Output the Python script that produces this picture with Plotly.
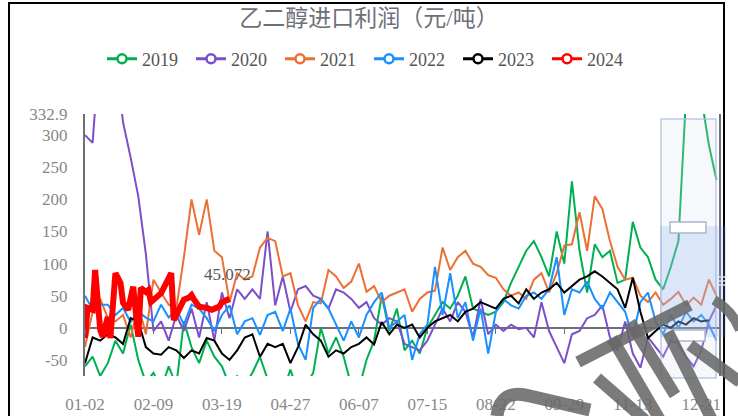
import plotly.graph_objects as go

# x axis: trading-day index (0..250), labels every 27 days
TICK_LABELS = ["01-02", "02-09", "03-19", "04-27", "06-07",
               "07-15", "08-22", "09-29", "11-13", "12-21"]
Y_TICKS = [-50, 0, 50, 100, 150, 200, 250, 300, 332.9]

# values sampled every 3 trading days
Y2019 = [-60, -45, -75, -55, -20, -40, 5, -50, -85, -70, -95, -60, -90, 10, -30,
         -55, -20, -45, -60, -90, -75, -90, -70, -45, -80, -95, -100, -65, -100, -90,
         -70, 0, -40, -15, -45, -90, -95, -50, -20, 50, -5, 30, -35, -20, -40,
         0, 20, 40, 30, 50, 80, 30, 25, 20, 25, 40, 70, 95, 120, 135,
         110, 80, 150, 100, 228, 120, 55, 130, 110, 120, 70, 75, 165, 125, 110,
         75, 60, 95, 135, 360, 400, 360, 285, 230]
Y2020 = [300, 288, 450, 480, 420, 320, 265, 205, 115, -5, 10, -20, 20, -5, 30,
         -15, 40, -20, 55, 15, 60, 45, 60, 45, 150, 35, 80, 25, 60, 65,
         50, 45, 30, 60, 55, 45, 31, 40, 15, 5, 15, 10, -25, -30, -35,
         -20, 5, 30, 10, 40, 25, -15, 45, -10, 5, -5, 5, -2, 0, -15,
         40, -5, -30, -55, -10, -5, 15, 20, 35, -15, -35, 10, -40, -62, -15,
         -30, -45, -20, -25, -45, -60, -35, 10, 35]
Y2021 = [-30, 25, 45, 15, 10, 20, -15, 36, -10, 75, 55, 36, 30, 110, 200,
         145, 200, 120, 110, 40, 85, 75, 80, 125, 140, 135, 80, 85, 35, 10,
         40, 38, 90, 80, 62, 72, 100, 56, 65, 40, 50, 55, 60, 25, 45,
         55, 58, 125, 90, 110, 120, 100, 95, 82, 78, 60, 50, 55, 45, 75,
         85, 55, 85, 128, 130, 180, 120, 205, 185, 135, 95, 75, 78, 50, 40,
         55, 36, 45, 56, 35, 47, 36, 75, 50]
Y2022 = [50, 28, 36, 36, 20, 31, 9, 25, 16, 10, 36, 16, 30, 5, 36,
         30, 15, -5, 20, 35, -10, 10, 15, -11, 20, 25, -5, 30, -25, -50,
         31, 45, 30, 5, -20, 10, -15, 20, 40, 55, 0, 10, 20, -50, -10,
         5, 95, 20, 85, 15, 40, -20, 30, -40, 25, 45, 35, 30, 50, 55,
         45, 60, 110, 20, 60, 55, 72, 45, 30, 55, 40, 25, -15, 40, 55,
         10, -10, 20, 0, 25, 10, 20, 5, -20]
Y2023 = [-55, -15, -20, -10, -15, -25, 15, 10, -30, -40, -42, -30, -35, -47, -35,
         -40, -16, -20, -40, -50, -35, -15, -10, -45, -25, -30, -25, -55, -30, 5,
         -10, -20, -45, -35, -40, -30, -25, -15, -26, 9, -10, 5, 0, 5, -15,
         0, 10, 15, 20, 10, 25, 30, 40, 35, 30, 45, 50, 38, 60, 45,
         55, 60, 70, 55, 65, 75, 80, 88, 80, 70, 60, 31, 78, 25, -16,
         -5, 5, 0, 10, 5, 15, 10, 12]
# 2024 so far (trading-day index, value)
X2024 = [0, 1, 3, 4, 6, 7, 9, 10, 12, 14, 15, 17, 19, 21, 22, 24,
         25, 26, 30, 34, 35, 37, 39, 41, 42, 43, 45, 48, 50, 53, 54, 57]
Y2024 = [-16, 31, 28, 90, -3, -14, 17, -16, 85, 70, 39, 28, 64, -14, 62, 56,
         59, 40, 54, 85, 12, 28, 44, 47, 51, 44, 33, 31, 28, 33, 40, 45.072]

SERIES = [
    ("2019", Y2019, "#00b050"),
    ("2020", Y2020, "#7b4fc9"),
    ("2021", Y2021, "#ec6f35"),
    ("2022", Y2022, "#1890ff"),
    ("2023", Y2023, "#000000"),
]

L, R, T, B = 85, 719, 114, 376  # plot box in pixels


def px(x):
    return (x - L) / (R - L)


def py(y):
    return (B - y) / (B - T)


fig = go.Figure()
for name, vals, color in SERIES:
    fig.add_trace(go.Scatter(
        x=[i * 3 for i in range(len(vals))], y=vals, mode="lines",
        line=dict(color=color, width=2), showlegend=False, hoverinfo="skip",
    ))
fig.add_trace(go.Scatter(
    x=X2024, y=Y2024, mode="lines", line=dict(color="#ff0000", width=6),
    showlegend=False, hoverinfo="skip",
))

# legend entries: line + hollow circle
for name, _, color in SERIES + [("2024", None, "#ff0000")]:
    fig.add_trace(go.Scatter(
        x=[None], y=[None], mode="lines+markers", name=name,
        line=dict(color=color, width=3),
        marker=dict(size=9, color="white", line=dict(color=color, width=2.5)),
    ))

fig.add_annotation(x=X2024[-1], y=Y2024[-1], text=f"{Y2024[-1]:.3f}",
                   showarrow=False, yshift=24, xshift=-2,
                   font=dict(size=17, color="#555"))

# tick marks on the zero line
fig.add_trace(go.Scatter(x=[0, 250], y=[None, None], xaxis="x2", showlegend=False))

shapes = [
    # outer frame
    dict(type="rect", xref="paper", yref="paper", x0=px(9), x1=px(724),
         y0=py(430), y1=py(3), line=dict(color="black", width=2), layer="above"),
    # vertical dataZoom slider
    dict(type="rect", xref="paper", yref="paper", x0=px(661), x1=px(716),
         y0=py(378), y1=py(119), fillcolor="rgba(215,224,242,0.22)",
         line=dict(color="rgba(172,188,222,0.8)", width=1.5), layer="above"),
    dict(type="rect", xref="paper", yref="paper", x0=px(660), x1=px(726),
         y0=py(337), y1=py(226), fillcolor="rgba(120,160,240,0.2)",
         line=dict(width=0), layer="above"),
    dict(type="rect", xref="paper", yref="paper", x0=px(670), x1=px(706),
         y0=py(233), y1=py(222), fillcolor="white",
         line=dict(color="#aab6cc", width=1.5), layer="above"),
    dict(type="rect", xref="paper", yref="paper", x0=px(672), x1=px(705),
         y0=py(341), y1=py(330), fillcolor="white",
         line=dict(color="#aab6cc", width=1.5), layer="above"),
]
for yy in (277, 281, 285):
    shapes.append(dict(type="line", xref="paper", yref="paper", x0=px(719),
                       x1=px(725), y0=py(yy), y1=py(yy),
                       line=dict(color="#d8dde8", width=1.5), layer="above"))

# watermark strokes (bottom-right corner)
WM = "rgba(105,105,105,0.88)"
shapes.append(dict(
    type="path", xref="paper", yref="paper",
    path=(f"M {px(497)},{py(416)} Q {px(500)},{py(388)} {px(530)},{py(396)} "
          f"L {px(590)},{py(410)}"),
    line=dict(color=WM, width=13), layer="above"))
for (xa, ya, xb, yb) in [(578, 362, 690, 305), (597, 378, 645, 420),
                         (612, 338, 660, 420), (630, 322, 675, 395),
                         (668, 332, 712, 420), (690, 345, 740, 382)]:
    shapes.append(dict(type="line", xref="paper", yref="paper",
                       x0=px(xa), y0=py(ya), x1=px(xb), y1=py(yb),
                       line=dict(color=WM, width=12), layer="above"))
shapes.append(dict(
    type="path", xref="paper", yref="paper",
    path=f"M {px(714)},{py(300)} Q {px(732)},{py(310)} {px(740)},{py(330)}",
    line=dict(color=WM, width=10), layer="above"))

FONT = "Liberation Serif, Noto Sans CJK SC"
fig.update_layout(
    width=738, height=416,
    margin=dict(l=L, r=738 - R, t=T, b=416 - B),
    plot_bgcolor="white", paper_bgcolor="white",
    font=dict(family=FONT, size=17, color="#888"),
    title=dict(text="乙二醇进口利润（元/吨）", x=0.5, xanchor="center",
               y=1 - 18 / 416, yanchor="middle",
               font=dict(size=23, color="#6e7079", family=FONT)),
    legend=dict(orientation="h", xref="container", x=0.5, xanchor="center",
                yref="container", y=1 - 59 / 416, yanchor="middle",
                entrywidth=44, entrywidthmode="pixels",
                font=dict(size=18, color="#555")),
    xaxis=dict(range=[0, 250], tickvals=[i * 27 for i in range(len(TICK_LABELS))],
               ticktext=TICK_LABELS, showgrid=False, zeroline=False,
               showline=False, ticks="", ticklabelstandoff=16, automargin=False,
               tickfont=dict(size=17, color="#888")),
    xaxis2=dict(range=[0, 250], overlaying="x", anchor="free",
                position=75 / 407.9, tickvals=[i * 27 for i in range(len(TICK_LABELS))],
                showticklabels=False, ticks="outside", ticklen=5, automargin=False,
                tickcolor="#6e7079", showgrid=False, zeroline=False, showline=False),
    yaxis=dict(range=[-75, 332.9], tickvals=Y_TICKS,
               ticktext=[f"{v:g}" for v in Y_TICKS], showgrid=False,
               zeroline=True, zerolinecolor="#6e7079", zerolinewidth=2,
               showline=True, linecolor="#6e7079", linewidth=2, mirror=True,
               ticks="", ticklabelstandoff=12, automargin=False,
               tickfont=dict(size=17, color="#888")),
    shapes=shapes,
)

fig.write_html("out.html", config={"displayModeBar": False},
               post_script="document.body.style.margin = '0';")
